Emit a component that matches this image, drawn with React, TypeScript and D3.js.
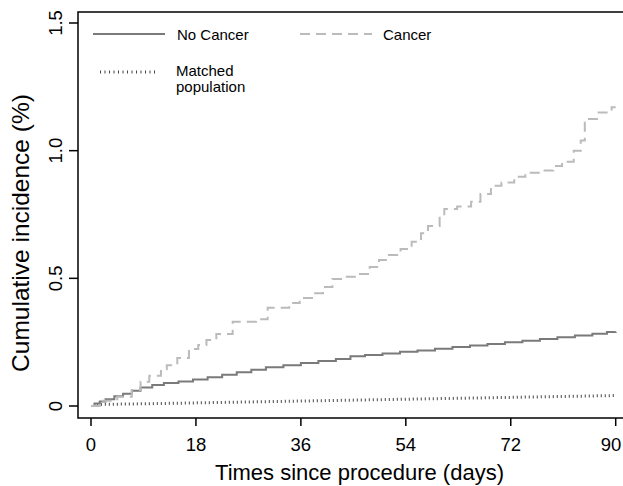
import * as d3 from "d3";

const xTicks = [0, 18, 36, 54, 72, 90];
const yTicks = [0, 0.5, 1.0, 1.5];
const yTickLabels = ["0", "0.5", "1.0", "1.5"];

// No Cancer (step starts)
const noCancerDays = [0, 0.6, 1.5, 2.5, 4, 5.5, 7, 8.5, 10.5, 12.5, 15, 17.5, 20, 22.5, 25, 27.5, 30, 33, 36, 39, 42, 44.5, 47, 50, 53, 56, 59, 62, 65, 68, 71, 74, 77, 80, 83, 86, 88.5, 90];
const noCancerVals = [0, 0.01, 0.018, 0.026, 0.038, 0.048, 0.06, 0.072, 0.082, 0.09, 0.096, 0.104, 0.113, 0.122, 0.132, 0.142, 0.152, 0.16, 0.168, 0.176, 0.184, 0.195, 0.2, 0.206, 0.212, 0.217, 0.224, 0.231, 0.237, 0.243, 0.25, 0.256, 0.262, 0.269, 0.276, 0.283, 0.29, 0.291];

// Cancer (step starts)
const cancerDays = [0, 1.5, 4.5, 7, 8.5, 10, 12, 13, 14.8, 16.8, 18.4, 19.8, 21.5, 24.3, 28.3, 30.3, 34, 35.8, 38.2, 39.8, 41.4, 43.3, 45.8, 47.8, 49.4, 51.1, 53.1, 55, 56.6, 57.8, 59.8, 60.6, 62.8, 65.2, 66.8, 68.6, 70.4, 72.6, 74.5, 76.8, 79.3, 80.8, 82.8, 84, 84.7, 86.8, 89.3, 90];
const cancerVals = [0, 0.021, 0.036, 0.063, 0.095, 0.118, 0.144, 0.16, 0.188, 0.223, 0.239, 0.258, 0.282, 0.33, 0.34, 0.385, 0.403, 0.423, 0.442, 0.466, 0.497, 0.506, 0.517, 0.544, 0.572, 0.591, 0.615, 0.643, 0.677, 0.705, 0.745, 0.772, 0.781, 0.8, 0.83, 0.863, 0.875, 0.898, 0.914, 0.922, 0.94, 0.957, 1.0, 1.04, 1.124, 1.149, 1.17, 1.17];

// Matched population
const matchedDays = [1, 10, 20, 30, 40, 50, 60, 70, 80, 90];
const matchedVals = [0.006, 0.009, 0.013, 0.017, 0.021, 0.025, 0.029, 0.033, 0.037, 0.041];

const FONT = "Arial, 'Liberation Sans', Helvetica, sans-serif";

const x = d3.scaleLinear().domain([0, 90]).range([91, 615.7]);
const y = d3.scaleLinear().domain([0, 1.5]).range([406, 23]);

const toPts = (ds: number[], vs: number[]) => ds.map((d, i) => [d, vs[i]] as [number, number]);

const stepLine = d3
  .line<[number, number]>()
  .x((d) => x(d[0]))
  .y((d) => y(d[1]))
  .curve(d3.curveStepAfter);

const plainLine = d3
  .line<[number, number]>()
  .x((d) => x(d[0]))
  .y((d) => y(d[1]));

const App = () => {
  const left = 78;
  const top = 12;
  const bottom = 418;
  return (
    <svg width={623} height={486} style={{ position: "absolute", left: 0, top: 0, background: "white" }}>
      <path d={plainLine(toPts(matchedDays, matchedVals)) || ""} fill="none" stroke="#444" strokeWidth={3} strokeDasharray="1,3" />
      <path d={stepLine(toPts(noCancerDays, noCancerVals)) || ""} fill="none" stroke="#7a7a7a" strokeWidth={2} />
      <path d={stepLine(toPts(cancerDays, cancerVals)) || ""} fill="none" stroke="#bbbbbb" strokeWidth={2} strokeDasharray="10,6" />

      <rect x={left} y={top} width={600} height={bottom - top} fill="none" stroke="black" strokeWidth={1.5} />

      {xTicks.map((t) => (
        <g key={t}>
          <line x1={x(t)} x2={x(t)} y1={bottom} y2={bottom + 8} stroke="black" strokeWidth={1.5} />
          <text x={Math.min(x(t), 611)} y={451} fontFamily={FONT} fontSize={18.5} textAnchor="middle">
            {t}
          </text>
        </g>
      ))}
      {yTicks.map((t, i) => (
        <g key={t}>
          <line x1={left} x2={left - 9} y1={y(t)} y2={y(t)} stroke="black" strokeWidth={1.5} />
          <text transform={`translate(62,${y(t)}) rotate(-90)`} fontFamily={FONT} fontSize={18.5} textAnchor="middle">
            {yTickLabels[i]}
          </text>
        </g>
      ))}

      <text x={359.5} y={480} fontFamily={FONT} fontSize={22} textAnchor="middle">
        Times since procedure (days)
      </text>
      <text transform="translate(29,233) rotate(-90)" fontFamily={FONT} fontSize={24.5} textAnchor="middle">
        Cumulative incidence (%)
      </text>

      <line x1={93} x2={165} y1={34} y2={34} stroke="#7a7a7a" strokeWidth={2} />
      <text x={177} y={39.5} fontFamily={FONT} fontSize={15}>No Cancer</text>
      <line x1={300} x2={372} y1={34} y2={34} stroke="#bbbbbb" strokeWidth={2} strokeDasharray="10,6" />
      <text x={383} y={39.5} fontFamily={FONT} fontSize={15}>Cancer</text>
      <line x1={100} x2={157} y1={72} y2={72} stroke="#444" strokeWidth={3} strokeDasharray="1,3.5" />
      <text x={176} y={76} fontFamily={FONT} fontSize={15}>Matched</text>
      <text x={176} y={92} fontFamily={FONT} fontSize={15}>population</text>
    </svg>
  );
};

export default App;
